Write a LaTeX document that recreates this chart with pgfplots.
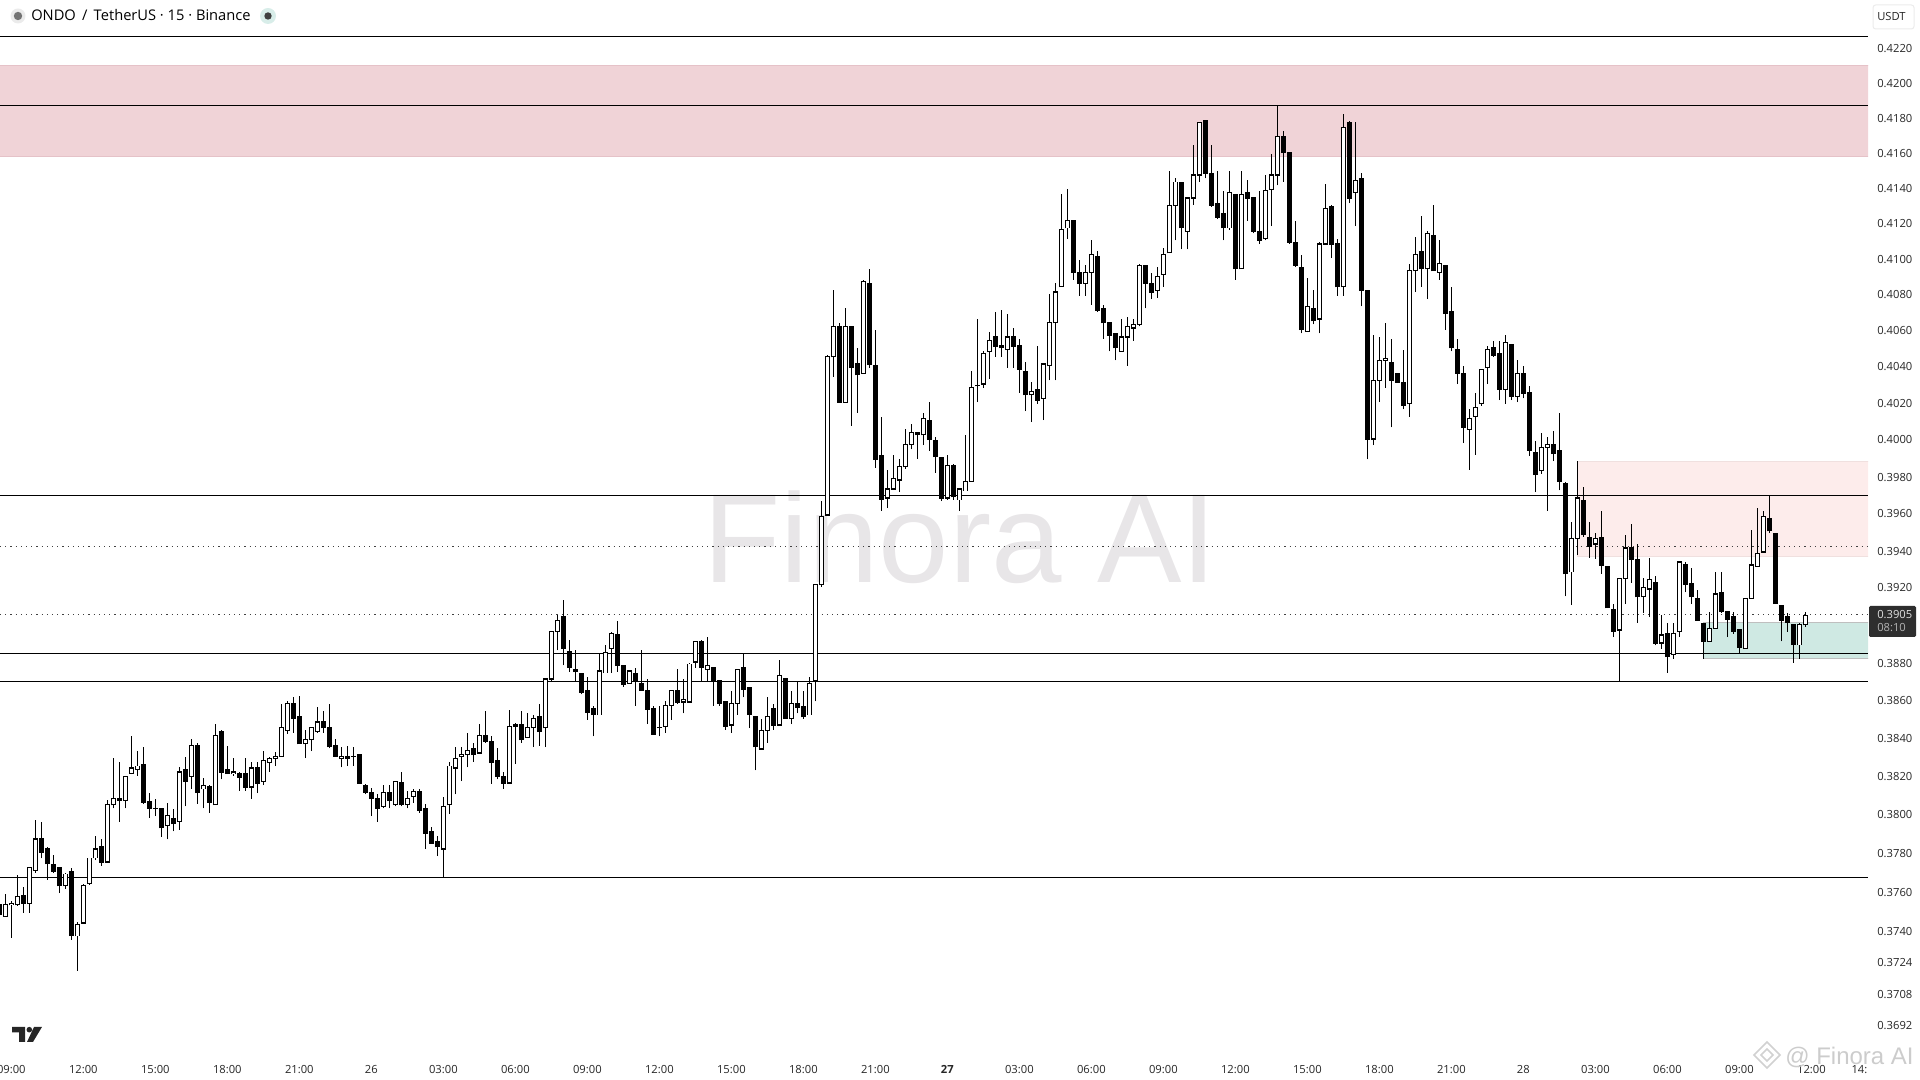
\documentclass[border=0pt]{standalone}
\usepackage{fontspec}
\setmainfont{Open Sans}
\newfontfamily\wmfont{Liberation Sans}
\usepackage{pgfplots}
\usepackage{pgfplotstable}
\pgfplotsset{compat=1.18}

\definecolor{zonered}{HTML}{F0D3D7}
\definecolor{zoneredline}{HTML}{E5C2C8}
\definecolor{zonepale}{HTML}{FDECEB}
\definecolor{zoneteal}{HTML}{CFE9E3}
\definecolor{wmgray}{HTML}{E8E6E8}

% ONDO/USDT 15 min, n = bar index, n=13 is 12:00 on the 25th
\pgfplotstableread{
n o h l c
-1 0.3753 0.3756 0.3746 0.3748
0 0.3747 0.3758 0.3747 0.3753
1 0.3753 0.3755 0.3736 0.3754
2 0.3753 0.3768 0.3753 0.3757
3 0.3758 0.3762 0.3749 0.3754
4 0.3754 0.3772 0.3749 0.3772
5 0.3771 0.3797 0.3770 0.3787
6 0.3787 0.3796 0.3777 0.3780
7 0.3782 0.3783 0.3766 0.3774
8 0.3774 0.3779 0.3770 0.3770
9 0.3772 0.3772 0.3759 0.3763
10 0.3763 0.3770 0.3761 0.3769
11 0.3770 0.3772 0.3735 0.3737
12 0.3737 0.3744 0.3719 0.3743
13 0.3744 0.3764 0.3744 0.3763
14 0.3764 0.3777 0.3763 0.3777
15 0.3777 0.3789 0.3776 0.3782
16 0.3783 0.3787 0.3773 0.3775
17 0.3775 0.3807 0.3775 0.3805
18 0.3805 0.3829 0.3803 0.3808
19 0.3808 0.3827 0.3796 0.3807
20 0.3807 0.3820 0.3803 0.3820
21 0.3821 0.3841 0.3821 0.3824
22 0.3823 0.3833 0.3820 0.3825
23 0.3826 0.3835 0.3805 0.3806
24 0.3806 0.3811 0.3798 0.3803
25 0.3803 0.3808 0.3799 0.3803
26 0.3803 0.3803 0.3788 0.3793
27 0.3794 0.3806 0.3787 0.3799
28 0.3798 0.3802 0.3791 0.3795
29 0.3796 0.3824 0.3792 0.3822
30 0.3823 0.3830 0.3804 0.3817
31 0.3820 0.3839 0.3813 0.3836
32 0.3836 0.3837 0.3805 0.3811
33 0.3813 0.3819 0.3803 0.3815
34 0.3814 0.3815 0.3801 0.3806
35 0.3805 0.3847 0.3805 0.3841
36 0.3843 0.3844 0.3818 0.3822
37 0.3823 0.3836 0.3821 0.3821
38 0.3821 0.3829 0.3820 0.3822
39 0.3821 0.3822 0.3812 0.3819
40 0.3821 0.3829 0.3812 0.3814
41 0.3814 0.3827 0.3808 0.3824
42 0.3824 0.3827 0.3811 0.3816
43 0.3817 0.3833 0.3815 0.3828
44 0.3827 0.3830 0.3822 0.3829
45 0.3829 0.3832 0.3825 0.3830
46 0.3830 0.3858 0.3830 0.3845
47 0.3844 0.3859 0.3842 0.3858
48 0.3858 0.3861 0.3843 0.3850
49 0.3851 0.3862 0.3837 0.3837
50 0.3837 0.3844 0.3829 0.3839
51 0.3839 0.3845 0.3833 0.3845
52 0.3843 0.3856 0.3843 0.3848
53 0.3848 0.3854 0.3843 0.3845
54 0.3845 0.3858 0.3834 0.3835
55 0.3836 0.3839 0.3830 0.3830
56 0.3829 0.3835 0.3824 0.3830
57 0.3830 0.3836 0.3825 0.3829
58 0.3830 0.3835 0.3825 0.3830
59 0.3831 0.3831 0.3816 0.3816
60 0.3815 0.3816 0.3810 0.3811
61 0.3811 0.3814 0.3799 0.3808
62 0.3808 0.3810 0.3796 0.3803
63 0.3804 0.3815 0.3803 0.3811
64 0.3811 0.3815 0.3803 0.3807
65 0.3805 0.3817 0.3804 0.3817
66 0.3816 0.3822 0.3804 0.3805
67 0.3805 0.3812 0.3803 0.3808
68 0.3809 0.3813 0.3806 0.3812
69 0.3812 0.3813 0.3801 0.3802
70 0.3803 0.3805 0.3782 0.3790
71 0.3791 0.3793 0.3785 0.3785
72 0.3786 0.3789 0.3778 0.3783
73 0.3782 0.3809 0.3767 0.3804
74 0.3805 0.3827 0.3800 0.3825
75 0.3824 0.3835 0.3810 0.3829
76 0.3830 0.3835 0.3817 0.3831
77 0.3831 0.3843 0.3824 0.3833
78 0.3834 0.3837 0.3827 0.3831
79 0.3832 0.3847 0.3832 0.3841
80 0.3841 0.3854 0.3837 0.3838
81 0.3838 0.3841 0.3816 0.3827
82 0.3828 0.3834 0.3818 0.3820
83 0.3820 0.3822 0.3813 0.3816
84 0.3816 0.3855 0.3816 0.3846
85 0.3847 0.3848 0.3826 0.3846
86 0.3847 0.3854 0.3837 0.3839
87 0.3840 0.3853 0.3840 0.3845
88 0.3845 0.3852 0.3835 0.3850
89 0.3851 0.3858 0.3836 0.3843
90 0.3845 0.3871 0.3835 0.3871
91 0.3871 0.3896 0.3870 0.3896
92 0.3896 0.3905 0.3886 0.3902
93 0.3904 0.3913 0.3878 0.3887
94 0.3886 0.3892 0.3875 0.3877
95 0.3876 0.3886 0.3870 0.3875
96 0.3874 0.3874 0.3863 0.3864
97 0.3865 0.3872 0.3849 0.3853
98 0.3855 0.3857 0.3841 0.3852
99 0.3852 0.3884 0.3852 0.3875
100 0.3874 0.3889 0.3874 0.3885
101 0.3887 0.3896 0.3874 0.3895
102 0.3894 0.3902 0.3875 0.3878
103 0.3878 0.3878 0.3867 0.3868
104 0.3869 0.3875 0.3869 0.3875
105 0.3874 0.3877 0.3857 0.3870
106 0.3869 0.3886 0.3865 0.3865
107 0.3865 0.3871 0.3847 0.3855
108 0.3855 0.3857 0.3842 0.3842
109 0.3845 0.3857 0.3841 0.3845
110 0.3846 0.3859 0.3843 0.3857
111 0.3857 0.3865 0.3849 0.3865
112 0.3865 0.3876 0.3858 0.3859
113 0.3859 0.3871 0.3853 0.3860
114 0.3859 0.3880 0.3859 0.3879
115 0.3880 0.3891 0.3877 0.3891
116 0.3891 0.3892 0.3870 0.3877
117 0.3876 0.3893 0.3870 0.3878
118 0.3877 0.3877 0.3857 0.3870
119 0.3870 0.3870 0.3857 0.3858
120 0.3859 0.3859 0.3844 0.3846
121 0.3847 0.3865 0.3843 0.3858
122 0.3858 0.3876 0.3852 0.3876
123 0.3877 0.3885 0.3861 0.3866
124 0.3867 0.3867 0.3845 0.3852
125 0.3851 0.3851 0.3823 0.3835
126 0.3834 0.3850 0.3834 0.3844
127 0.3844 0.3861 0.3837 0.3851
128 0.3855 0.3858 0.3844 0.3847
129 0.3847 0.3881 0.3847 0.3873
130 0.3871 0.3871 0.3850 0.3850
131 0.3850 0.3865 0.3847 0.3858
132 0.3858 0.3870 0.3853 0.3856
133 0.3856 0.3865 0.3850 0.3851
134 0.3852 0.3872 0.3852 0.3869
135 0.3870 0.3921 0.3859 0.3921
136 0.3921 0.3966 0.3920 0.3958
137 0.3959 0.4046 0.3959 0.4045
138 0.4045 0.4082 0.4034 0.4062
139 0.4062 0.4064 0.4020 0.4020
140 0.4020 0.4072 0.4020 0.4062
141 0.4062 0.4062 0.4007 0.4039
142 0.4041 0.4050 0.4014 0.4035
143 0.4036 0.4088 0.4036 0.4087
144 0.4086 0.4094 0.4039 0.4041
145 0.4040 0.4060 0.3985 0.3989
146 0.3991 0.4012 0.3961 0.3967
147 0.3968 0.3983 0.3963 0.3973
148 0.3973 0.3992 0.3973 0.3979
149 0.3978 0.3989 0.3971 0.3985
150 0.3985 0.4005 0.3984 0.3997
151 0.3997 0.4008 0.3995 0.4003
152 0.4003 0.4003 0.3990 0.4002
153 0.4002 0.4014 0.3997 0.4011
154 0.4010 0.4020 0.3994 0.4000
155 0.3999 0.4001 0.3982 0.3991
156 0.3990 0.3990 0.3966 0.3968
157 0.3968 0.3992 0.3967 0.3986
158 0.3986 0.3987 0.3967 0.3969
159 0.3967 0.3973 0.3961 0.3973
160 0.3972 0.4002 0.3972 0.3977
161 0.3977 0.4037 0.3977 0.4028
162 0.4029 0.4066 0.4020 0.4029
163 0.4030 0.4048 0.4028 0.4047
164 0.4048 0.4059 0.4033 0.4054
165 0.4056 0.4070 0.4045 0.4051
166 0.4051 0.4071 0.4045 0.4050
167 0.4049 0.4069 0.4039 0.4056
168 0.4056 0.4061 0.4039 0.4051
169 0.4051 0.4055 0.4025 0.4038
170 0.4037 0.4042 0.4015 0.4024
171 0.4024 0.4031 0.4009 0.4026
172 0.4027 0.4051 0.4019 0.4021
173 0.4022 0.4041 0.4010 0.4041
174 0.4040 0.4080 0.4032 0.4064
175 0.4064 0.4086 0.4032 0.4081
176 0.4084 0.4136 0.4084 0.4116
177 0.4117 0.4139 0.4111 0.4121
178 0.4121 0.4121 0.4088 0.4092
179 0.4092 0.4099 0.4079 0.4086
180 0.4086 0.4096 0.4079 0.4092
181 0.4092 0.4110 0.4074 0.4102
182 0.4101 0.4104 0.4070 0.4071
183 0.4072 0.4074 0.4055 0.4064
184 0.4064 0.4064 0.4048 0.4057
185 0.4058 0.4058 0.4043 0.4050
186 0.4048 0.4066 0.4048 0.4056
187 0.4056 0.4067 0.4040 0.4062
188 0.4061 0.4066 0.4054 0.4063
189 0.4063 0.4097 0.4062 0.4096
190 0.4096 0.4096 0.4072 0.4086
191 0.4086 0.4092 0.4077 0.4081
192 0.4082 0.4095 0.4078 0.4090
193 0.4091 0.4106 0.4084 0.4102
194 0.4103 0.4149 0.4103 0.4130
195 0.4130 0.4145 0.4110 0.4143
196 0.4143 0.4143 0.4105 0.4117
197 0.4115 0.4134 0.4105 0.4134
198 0.4134 0.4164 0.4130 0.4147
199 0.4147 0.4177 0.4143 0.4177
200 0.4178 0.4178 0.4145 0.4148
201 0.4148 0.4164 0.4129 0.4130
202 0.4131 0.4149 0.4122 0.4123
203 0.4125 0.4138 0.4110 0.4117
204 0.4117 0.4149 0.4116 0.4137
205 0.4136 0.4136 0.4088 0.4094
206 0.4094 0.4149 0.4094 0.4136
207 0.4137 0.4144 0.4121 0.4134
208 0.4134 0.4134 0.4114 0.4115
209 0.4115 0.4138 0.4108 0.4110
210 0.4111 0.4147 0.4110 0.4138
211 0.4139 0.4159 0.4118 0.4147
212 0.4147 0.4187 0.4141 0.4169
213 0.4169 0.4172 0.4143 0.4160
214 0.4160 0.4160 0.4108 0.4109
215 0.4109 0.4121 0.4095 0.4096
216 0.4095 0.4102 0.4058 0.4060
217 0.4059 0.4089 0.4059 0.4073
218 0.4072 0.4082 0.4063 0.4065
219 0.4066 0.4109 0.4058 0.4108
220 0.4108 0.4142 0.4108 0.4128
221 0.4129 0.4130 0.4100 0.4108
222 0.4108 0.4111 0.4079 0.4084
223 0.4084 0.4182 0.4079 0.4174
224 0.4177 0.4178 0.4131 0.4134
225 0.4137 0.4177 0.4118 0.4144
226 0.4145 0.4148 0.4073 0.4082
227 0.4082 0.4082 0.3989 0.4000
228 0.4000 0.4057 0.3997 0.4032
229 0.4032 0.4056 0.4020 0.4043
230 0.4043 0.4064 0.4028 0.4044
231 0.4042 0.4055 0.4006 0.4032
232 0.4036 0.4036 0.4031 0.4031
233 0.4031 0.4049 0.4016 0.4018
234 0.4019 0.4097 0.4012 0.4093
235 0.4093 0.4112 0.4081 0.4102
236 0.4104 0.4124 0.4084 0.4094
237 0.4094 0.4115 0.4077 0.4114
238 0.4113 0.4130 0.4093 0.4093
239 0.4092 0.4110 0.4088 0.4097
240 0.4096 0.4096 0.4060 0.4069
241 0.4070 0.4084 0.4048 0.4050
242 0.4049 0.4055 0.4030 0.4036
243 0.4036 0.4040 0.3998 0.4006
244 0.4005 0.4016 0.3983 0.4011
245 0.4012 0.4025 0.3992 0.4017
246 0.4019 0.4038 0.4018 0.4038
247 0.4039 0.4051 0.4030 0.4049
248 0.4050 0.4054 0.4045 0.4046
249 0.4047 0.4054 0.4021 0.4027
250 0.4027 0.4057 0.4019 0.4053
251 0.4052 0.4052 0.4021 0.4023
252 0.4023 0.4043 0.4020 0.4036
253 0.4036 0.4040 0.4022 0.4025
254 0.4025 0.4029 0.3991 0.3994
255 0.3993 0.3999 0.3971 0.3981
256 0.3983 0.4003 0.3981 0.3996
257 0.3996 0.4001 0.3961 0.3997
258 0.3997 0.4004 0.3988 0.3992
259 0.3994 0.4014 0.3972 0.3977
260 0.3976 0.3977 0.3915 0.3927
261 0.3928 0.3955 0.3910 0.3946
262 0.3946 0.3988 0.3937 0.3968
263 0.3967 0.3974 0.3947 0.3948
264 0.3947 0.3955 0.3936 0.3942
265 0.3943 0.3949 0.3935 0.3946
266 0.3947 0.3961 0.3927 0.3932
267 0.3931 0.3931 0.3909 0.3909
268 0.3908 0.3911 0.3893 0.3896
269 0.3897 0.3925 0.3870 0.3925
270 0.3925 0.3948 0.3911 0.3941
271 0.3941 0.3954 0.3922 0.3935
272 0.3935 0.3943 0.3901 0.3915
273 0.3915 0.3925 0.3906 0.3920
274 0.3919 0.3936 0.3904 0.3924
275 0.3923 0.3926 0.3889 0.3890
276 0.3890 0.3905 0.3887 0.3894
277 0.3895 0.3901 0.3874 0.3883
278 0.3884 0.3901 0.3882 0.3895
279 0.3896 0.3933 0.3893 0.3933
280 0.3932 0.3934 0.3917 0.3921
281 0.3922 0.3930 0.3911 0.3915
282 0.3914 0.3919 0.3902 0.3902
283 0.3901 0.3901 0.3882 0.3891
284 0.3891 0.3907 0.3891 0.3898
285 0.3898 0.3928 0.3898 0.3916
286 0.3917 0.3928 0.3906 0.3907
287 0.3907 0.3907 0.3893 0.3903
288 0.3904 0.3907 0.3895 0.3896
289 0.3897 0.3897 0.3885 0.3888
290 0.3887 0.3914 0.3887 0.3914
291 0.3914 0.3951 0.3914 0.3932
292 0.3931 0.3963 0.3931 0.3938
293 0.3939 0.3961 0.3939 0.3958
294 0.3957 0.3970 0.3949 0.3950
295 0.3949 0.3949 0.3911 0.3911
296 0.3910 0.3910 0.3891 0.3902
297 0.3904 0.3906 0.3896 0.3901
298 0.3900 0.3900 0.3880 0.3889
299 0.3889 0.3901 0.3882 0.3900
300 0.3900 0.3907 0.3899 0.3905
}\candles

\pgfplotsset{
  barlayer/.style n args={2}{draw=none,mark=none,
    error bars/y dir=plus,error bars/y explicit,error bars/error mark=none,
    error bars/error bar style={line width=#1,draw=#2,solid}},
  level/.style={black,line width=0.75pt},
  dotlevel/.style={black!75,line width=0.75pt,dash pattern=on 0.9pt off 3pt},
}

\begin{document}
\begin{tikzpicture}
\useasboundingbox (0,0) rectangle (1440pt,810pt);
% everything outside the axis is placed in image pixels
\begin{scope}[shift={(0,810pt)},x=0.75pt,y=-0.75pt]
  \node[anchor=base,inner sep=0pt,text=wmgray] at (960,583)
    {\wmfont\fontsize{95}{95}\selectfont Finora AI};
\end{scope}

\begin{axis}[
  at={(0pt,19.1pt)},anchor=south west,
  scale only axis,width=1401pt,height=764.25pt,
  ymode=log,
  xmin=-0.889,xmax=310.44,ymin=0.36764,ymax=0.42269,
  clip mode=individual,
  axis line style={draw=none},
  tick style={draw=none},
  major tick length=0pt,
  xtick={1,13,25,37,49,61,73,85,97,109,121,133,145,157,169,181,193,205,217,229,241,253,265,277,289,301,309},
  xticklabels={09:00,12:00,15:00,18:00,21:00,26,03:00,06:00,09:00,12:00,15:00,18:00,21:00,\textbf{27},03:00,06:00,09:00,12:00,15:00,18:00,21:00,28,03:00,06:00,09:00,12:00,14:},
  ytick={0.4220,0.4200,0.4180,0.4160,0.4140,0.4120,0.4100,0.4080,0.4060,0.4040,0.4020,0.4000,0.3980,0.3960,0.3940,0.3920,0.3880,0.3860,0.3840,0.3820,0.3800,0.3780,0.3760,0.3740,0.3724,0.3708,0.3692},
  yticklabels={0.4220,0.4200,0.4180,0.4160,0.4140,0.4120,0.4100,0.4080,0.4060,0.4040,0.4020,0.4000,0.3980,0.3960,0.3940,0.3920,0.3880,0.3860,0.3840,0.3820,0.3800,0.3780,0.3760,0.3740,0.3724,0.3708,0.3692},
  minor tick num=0,
  ytick pos=right,yticklabel pos=right,
  yticklabel style={anchor=west,inner sep=0pt,xshift=6.75pt,yshift=-0.8pt,font=\fontsize{8.4}{10}\selectfont,text=black!85},
  xticklabel style={anchor=north,inner sep=0pt,yshift=-7.6pt,font=\fontsize{8.4}{10}\selectfont,text=black!85},
]
% zones
\addplot[fill=zonered,draw=zoneredline] coordinates {(-3,0.42096)(314,0.42096)(314,0.41576)(-3,0.41576)} -- cycle;
\addplot[fill=zonepale,draw=zonepale!95!black] coordinates {(262,0.39880)(314,0.39880)(314,0.39365)(262,0.39365)} -- cycle;
\addplot[fill=zoneteal,draw=black!25] coordinates {(283,0.39008)(314,0.39008)(314,0.38816)(283,0.38816)} -- cycle;
% levels
\addplot[level] coordinates {(-0.889,0.41866)(310.44,0.41866)};
\addplot[level] coordinates {(-0.889,0.39698)(310.44,0.39698)};
\addplot[dotlevel] coordinates {(-0.889,0.39417)(310.44,0.39417)};
\addplot[dotlevel] coordinates {(-0.889,0.39050)(310.44,0.39050)};
\addplot[level] coordinates {(-0.889,0.38848)(310.44,0.38848)};
\addplot[level] coordinates {(-0.889,0.38700)(310.44,0.38700)};
\addplot[level] coordinates {(-0.889,0.37669)(310.44,0.37669)};
% wicks
\addplot[barlayer={0.8pt}{black}] table[x=n,y=l,y error plus expr=\thisrow{h}-\thisrow{l}] {\candles};
% black bodies, open above close
\addplot[barlayer={3.6pt}{black},restrict expr to domain={\thisrow{c}-\thisrow{o}}{-1:0}]
  table[x=n,y expr=\thisrow{c}-0.00003,y error plus expr=\thisrow{o}-\thisrow{c}+0.00006] {\candles};
% white bodies: black box with a white core
\addplot[barlayer={3.6pt}{black},restrict expr to domain={\thisrow{c}-\thisrow{o}}{0.00001:1}]
  table[x=n,y expr=\thisrow{o}-0.00003,y error plus expr=\thisrow{c}-\thisrow{o}+0.00006] {\candles};
\addplot[barlayer={1.9pt}{white},restrict expr to domain={\thisrow{c}-\thisrow{o}}{0.00001:1}]
  table[x=n,y expr=\thisrow{o}+0.00003,y error plus expr=\thisrow{c}-\thisrow{o}-0.00006] {\candles};
\end{axis}

\begin{scope}[shift={(0,810pt)},x=0.75pt,y=-0.75pt]
  % pane top
  \draw[black,line width=0.75pt] (0,36.4) -- (1868,36.4);
  % header
  \fill[black!8] (18,16) circle (7.5);
  \fill[black!55] (18,16) circle (4.2);
  \node[anchor=base west,inner sep=0pt] at (31,21) {\fontsize{11}{13}\selectfont ONDO\, /\, TetherUS · 15 · Binance};
  \fill[zoneteal!80] (268,16) circle (8);
  \fill[black!75] (268,16) circle (3.7);
  % currency box
  \draw[black!8,rounded corners=2pt,line width=0.75pt] (1873,5) rectangle (1914,29);
  \node[anchor=base west,inner sep=0pt,text=black!85] at (1877,21) {\fontsize{8.4}{10}\selectfont USDT};
  % last price tag
  \fill[black!82,rounded corners=1pt] (1869,606) rectangle (1916,637);
  \node[anchor=base west,inner sep=0pt,text=black!12] at (1877,618.5) {\fontsize{8.4}{10}\selectfont 0.3905};
  \node[anchor=base west,inner sep=0pt,text=black!30] at (1877,632) {\fontsize{8.4}{10}\selectfont 08:10};
  % chart logo
  \fill[black!85] (12,1027) -- (25,1027) -- (25,1042) -- (19,1042) -- (19,1032.3) -- (12,1032.3) -- cycle;
  \fill[black!85] (29.3,1029.7) circle (2.8);
  \fill[black!85] (34,1027) -- (42,1027) -- (33,1042) -- (27,1042) -- cycle;
  % corner watermark
  \draw[black!18,line width=1.2pt] (1767,1042) -- (1780,1055) -- (1767,1068) -- (1754,1055) -- cycle;
  \draw[black!18,line width=1.2pt] (1767,1049) -- (1773,1055) -- (1767,1061) -- (1761,1055) -- cycle;
  \node[anchor=base west,inner sep=0pt,text=black!20] at (1785,1065) {\wmfont\fontsize{18}{20}\selectfont @ Finora AI};
\end{scope}
\end{tikzpicture}
\end{document}
